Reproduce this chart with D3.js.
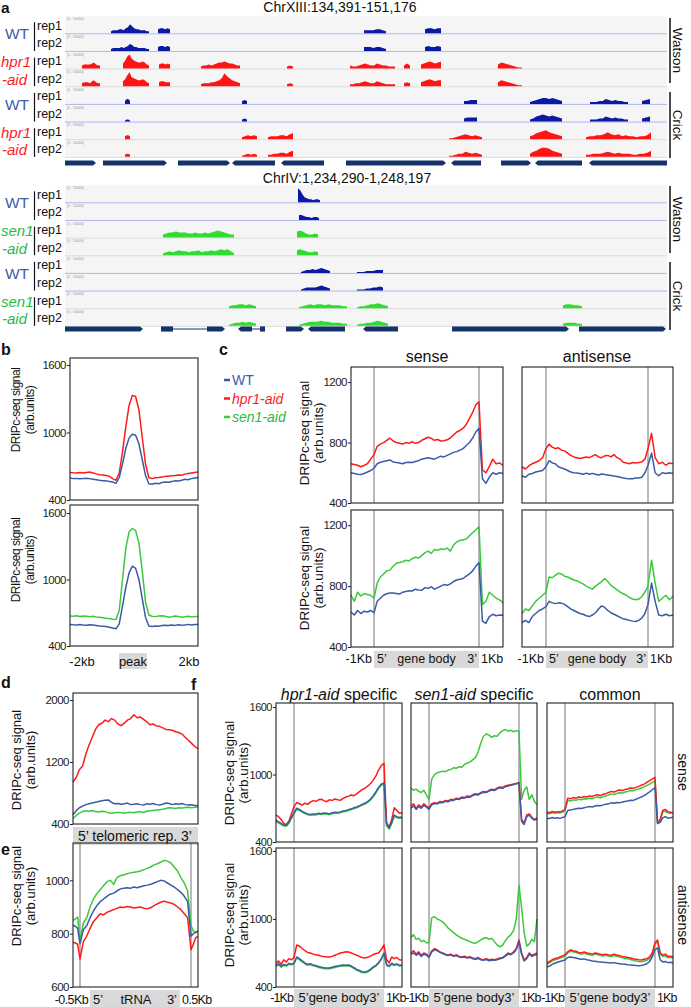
<!DOCTYPE html>
<html>
<head>
<meta charset="utf-8">
<script src="https://cdn.jsdelivr.net/npm/d3@7"></script>
<style>
  body { margin: 0; background: #fff; }
  svg { display: block; }
</style>
</head>
<body>
<svg id="chart" width="691" height="1007"></svg>
<script>
// ---------- panel a: genome browser tracks (position 0-602 across the window, height 0-16) ----------
const strainsXIII = ['WT', 'WT', 'hpr1', 'hpr1', 'WT', 'WT', 'hpr1', 'hpr1'];
const strainsIV = ['WT', 'WT', 'sen1', 'sen1', 'WT', 'WT', 'sen1', 'sen1'];

const peaksXIII = [
  [[46, 84, [2, 3, 3, 3, 4, 4, 3, 5, 6, 9, 7, 5, 4, 4, 3, 3, 3, 2, 2]], [93, 105, [4, 5, 5, 4, 5, 4]], [299, 321, [3, 3, 3, 3, 4, 4, 3, 2]], [360, 376, [4, 5, 5, 4, 5, 5]]],
  [[46, 84, [2, 3, 3, 3, 3, 4, 3, 4, 5, 7, 6, 4, 4, 3, 3, 3, 3, 2, 2]], [93, 105, [4, 5, 5, 4, 5, 4]], [299, 321, [4, 4, 4, 3, 4, 4, 3, 2]], [360, 376, [4, 5, 4, 4, 5, 4]]],
  [[17, 35, [3, 4, 4, 4, 4, 5, 6, 4, 3, 3]], [58, 84, [5, 8, 12, 14, 10, 8, 7, 6, 6, 7, 6, 4, 3]], [94, 105, [4, 5, 5, 4, 5, 4]], [136, 175, [2, 3, 3, 4, 3, 4, 5, 6, 6, 7, 6, 5, 5, 4, 3, 3]], [222, 228, [2, 3, 2]], [285, 330, [3, 2, 2, 3, 4, 5, 4, 3, 3, 5, 4, 3, 3, 2, 2, 2]], [339, 345, [3, 5, 3]], [356, 376, [4, 5, 6, 7, 6, 5, 6, 7]], [433, 457, [4, 6, 5, 4, 3, 2, 1, 1]]],
  [[17, 35, [3, 4, 4, 4, 3, 5, 6, 4, 3, 3]], [58, 84, [5, 7, 11, 14, 9, 8, 7, 6, 6, 7, 6, 4, 3]], [94, 105, [4, 5, 5, 4, 4, 4]], [136, 175, [2, 3, 3, 3, 4, 4, 5, 6, 8, 13, 10, 8, 6, 5, 4, 3]], [222, 228, [2, 3, 2]], [285, 330, [2, 2, 3, 3, 4, 5, 4, 3, 3, 5, 4, 3, 2, 2, 2, 2]], [339, 345, [3, 4, 3]], [356, 376, [4, 5, 6, 7, 6, 5, 6, 6]], [433, 457, [4, 6, 5, 4, 3, 2, 1, 1]]],
  [[60, 65, [3, 5, 5, 3]], [177, 182, [3, 4, 3]], [399, 412, [3, 3, 4, 4, 4]], [465, 497, [2, 3, 4, 5, 6, 6, 5, 6, 5, 4, 3]], [525, 563, [2, 2, 2, 3, 3, 5, 4, 3, 4, 3, 3, 2, 2]], [577, 585, [3, 4, 5]]],
  [[60, 65, [1, 2, 2, 1]], [177, 182, [2, 3, 2]], [399, 412, [3, 4, 4, 4, 4]], [465, 497, [2, 3, 5, 6, 7, 6, 5, 6, 5, 4, 3]], [525, 563, [2, 2, 2, 3, 3, 5, 4, 3, 4, 3, 3, 2, 2]], [577, 585, [3, 4, 5]]],
  [[60, 65, [3, 4, 4, 3]], [177, 192, [2, 3, 4, 3, 4, 3]], [203, 228, [2, 3, 3, 3, 4, 4, 3, 5, 6]], [384, 417, [1, 1, 2, 3, 4, 5, 4, 3, 4, 3, 2]], [465, 497, [3, 4, 6, 7, 8, 9, 7, 6, 5, 4, 3]], [521, 586, [2, 3, 3, 4, 4, 5, 7, 5, 4, 5, 3, 4, 3, 3, 2, 3, 3, 4, 7]]],
  [[60, 65, [2, 3, 3, 2]], [177, 192, [1, 2, 3, 2, 3, 2]], [203, 228, [2, 2, 3, 3, 4, 4, 3, 5, 6]], [384, 417, [1, 1, 2, 3, 3, 5, 4, 3, 4, 3, 2]], [465, 497, [3, 5, 6, 8, 9, 9, 8, 6, 5, 4, 3]], [521, 586, [2, 2, 3, 3, 3, 4, 5, 4, 3, 4, 3, 3, 3, 2, 2, 3, 3, 4, 6]]]
];
const peaksIV = [
  [[233, 255, [14, 12, 8, 5, 4, 3, 3, 2, 3, 3, 2]]],
  [[234, 254, [5, 5, 4, 3, 3, 2, 3, 3, 2]]],
  [[98, 169, [3, 4, 5, 5, 6, 5, 5, 5, 4, 4, 5, 4, 4, 5, 4, 5, 6, 7, 6, 5, 4, 3, 3]], [232, 253, [6, 7, 6, 4, 3, 3, 4, 3]]],
  [[98, 169, [2, 3, 4, 3, 4, 5, 4, 4, 3, 4, 4, 5, 3, 4, 4, 5, 4, 5, 6, 5, 6, 4, 2]], [232, 253, [5, 6, 5, 4, 3, 3, 4, 3]]],
  [[236, 265, [1, 2, 3, 3, 4, 3, 4, 5, 4, 3, 2]], [292, 318, [1, 1, 1, 2, 2, 2, 3, 3, 3]]],
  [[236, 265, [1, 2, 3, 3, 3, 3, 4, 5, 4, 3, 2]], [292, 318, [1, 1, 1, 2, 2, 3, 3, 4, 3]]],
  [[164, 191, [2, 3, 3, 4, 4, 3, 4, 3, 2]], [234, 282, [1, 2, 3, 4, 3, 4, 4, 3, 4, 3, 3, 3, 2, 2]], [292, 323, [1, 2, 2, 3, 4, 4, 5, 4, 3, 2]], [498, 517, [3, 4, 4, 3, 3, 2]]],
  [[164, 191, [1, 2, 3, 3, 4, 3, 4, 3, 2]], [234, 282, [1, 2, 3, 4, 4, 4, 5, 4, 4, 3, 3, 3, 2, 2]], [292, 323, [1, 2, 2, 3, 3, 4, 5, 4, 3, 2]], [498, 517, [2, 3, 3, 3, 2, 2]]]
];
const genesXIII = [[0, 31, 1], [38, 102, 1], [113, 165, 1], [167, 210, -1], [216, 259, -1], [281, 381, 1], [386, 416, -1], [436, 466, 1], [470, 517, -1], [524, 602, -1]];
const genesIV = [[0, 78, 1], [96, 108, 0], [142, 160, 1], [173, 187, -1], [195, 200, 0], [221, 239, 1], [243, 280, -1], [298, 333, -1], [387, 504, 1], [514, 601, 1]];
const intronsIV = [[108, 142], [187, 195]];

// ---------- panel b: peak metaprofiles (40 bins, -2kb .. peak .. 2kb) ----------
const bTopWT = [595, 590, 592, 588, 590, 594, 590, 585, 580, 575, 572, 570, 565, 560, 548, 600, 720, 860, 950, 985, 975, 900, 760, 620, 545, 540, 548, 545, 555, 560, 558, 565, 570, 568, 575, 585, 580, 590, 595, 600];
const bTopHpr1 = [645, 642, 640, 644, 640, 645, 648, 640, 632, 625, 622, 618, 610, 590, 575, 640, 830, 1050, 1240, 1330, 1320, 1200, 960, 720, 600, 590, 598, 600, 605, 610, 612, 615, 618, 622, 620, 630, 635, 640, 645, 650];
const bBotWT = [595, 592, 590, 594, 590, 588, 592, 590, 585, 580, 578, 575, 570, 562, 555, 600, 760, 930, 1060, 1120, 1100, 1000, 830, 660, 580, 575, 580, 578, 585, 588, 584, 590, 586, 592, 588, 590, 595, 590, 594, 595];
const bBotSen1 = [670, 668, 672, 666, 670, 668, 665, 668, 662, 660, 655, 650, 648, 642, 640, 720, 1000, 1280, 1430, 1460, 1440, 1330, 1080, 800, 680, 668, 665, 670, 672, 668, 660, 664, 670, 666, 660, 664, 668, 662, 665, 668];

// ---------- panel c: gene metaprofiles (48 bins: 0-7 upstream, 7-40 gene body, 40-47 downstream) ----------
const cSenseWT1 = [600, 595, 590, 588, 595, 605, 615, 630, 660, 670, 675, 680, 685, 672, 668, 665, 660, 668, 670, 668, 675, 680, 690, 695, 700, 695, 690, 700, 710, 705, 715, 725, 735, 740, 750, 760, 780, 800, 830, 870, 895, 560, 530, 570, 600, 590, 600, 595];
const cSenseHpr1 = [660, 655, 650, 640, 648, 660, 690, 720, 775, 790, 800, 815, 830, 810, 800, 795, 790, 800, 795, 805, 795, 800, 815, 825, 835, 828, 815, 820, 810, 812, 818, 830, 850, 870, 880, 895, 920, 960, 1000, 1050, 1070, 620, 600, 640, 690, 660, 665, 648];
const cAntiWT1 = [580, 570, 590, 595, 605, 610, 615, 640, 680, 665, 660, 640, 632, 625, 615, 605, 600, 598, 595, 590, 598, 590, 596, 590, 585, 592, 588, 585, 582, 578, 575, 570, 565, 562, 560, 560, 565, 565, 570, 600, 650, 730, 600, 580, 600, 595, 600, 595];
const cAntiHpr1 = [640, 625, 645, 660, 670, 680, 700, 760, 790, 770, 760, 765, 750, 745, 730, 715, 705, 700, 695, 700, 705, 700, 710, 720, 705, 700, 712, 715, 705, 720, 700, 690, 670, 665, 660, 668, 665, 668, 672, 690, 760, 860, 700, 660, 670, 650, 665, 660];
const cSenseWT2 = [630, 610, 640, 620, 635, 630, 640, 625, 700, 720, 740, 750, 755, 755, 752, 748, 760, 765, 770, 768, 780, 775, 772, 790, 785, 795, 780, 790, 800, 810, 805, 815, 830, 840, 845, 850, 865, 880, 900, 930, 955, 570, 555, 600, 615, 605, 610, 608];
const cSenseSen1 = [740, 700, 760, 735, 750, 745, 740, 720, 820, 860, 880, 900, 905, 930, 950, 955, 960, 970, 965, 980, 990, 985, 1000, 1020, 1030, 1015, 1040, 1035, 1045, 1040, 1050, 1030, 1070, 1090, 1100, 1105, 1110, 1130, 1150, 1170, 1190, 680, 700, 760, 740, 720, 710, 690];
const cAntiWT2 = [560, 575, 560, 600, 620, 640, 650, 665, 700, 690, 685, 690, 688, 680, 665, 650, 640, 630, 620, 615, 605, 600, 610, 625, 650, 670, 660, 640, 625, 615, 605, 595, 585, 580, 575, 570, 568, 575, 590, 620, 680, 820, 700, 610, 605, 615, 605, 610];
const cAntiSen1 = [620, 650, 640, 670, 700, 720, 740, 760, 860, 855, 870, 885, 880, 865, 860, 850, 840, 835, 825, 815, 800, 790, 780, 800, 815, 830, 850, 830, 805, 790, 775, 760, 750, 740, 725, 715, 710, 715, 730, 760, 800, 970, 820, 700, 720, 740, 710, 735];

// ---------- panel d: telomeric repeats (40 bins) ----------
const dWT = [520, 570, 610, 630, 650, 660, 670, 680, 690, 700, 705, 710, 680, 660, 665, 655, 660, 670, 650, 655, 660, 650, 645, 660, 655, 665, 650, 645, 655, 670, 665, 650, 660, 655, 665, 650, 645, 648, 640, 640];
const dHpr1 = [940, 1000, 1100, 1150, 1300, 1420, 1520, 1620, 1680, 1700, 1740, 1720, 1760, 1740, 1690, 1670, 1700, 1740, 1760, 1810, 1770, 1780, 1750, 1720, 1680, 1690, 1665, 1660, 1640, 1620, 1615, 1610, 1590, 1580, 1560, 1520, 1480, 1440, 1400, 1370];
const dSen1 = [470, 510, 540, 560, 570, 565, 575, 560, 555, 565, 560, 545, 540, 545, 550, 545, 540, 548, 550, 545, 555, 560, 548, 565, 570, 575, 580, 585, 590, 600, 610, 605, 600, 610, 605, 612, 615, 610, 615, 620];

// ---------- panel e: tRNA genes (40 bins: 0-3 upstream, 3-36 tRNA, 36-39 downstream) ----------
const eWT = [832, 828, 820, 762, 815, 830, 860, 885, 905, 920, 930, 940, 948, 952, 960, 968, 970, 972, 970, 975, 972, 976, 980, 982, 985, 990, 995, 1000, 998, 990, 982, 975, 965, 955, 940, 920, 790, 800, 805, 810];
const eHpr1 = [768, 765, 760, 705, 770, 790, 820, 845, 860, 875, 870, 880, 885, 890, 895, 900, 898, 902, 900, 896, 898, 900, 895, 893, 897, 905, 912, 918, 922, 918, 915, 910, 900, 890, 875, 860, 740, 760, 785, 790];
const eSen1 = [850, 855, 862, 775, 840, 860, 900, 930, 950, 965, 980, 995, 1000, 985, 1010, 1018, 1020, 1025, 1028, 1030, 1032, 1035, 1040, 1045, 1050, 1058, 1062, 1068, 1075, 1072, 1065, 1050, 1035, 1010, 990, 960, 830, 810, 805, 808];

// ---------- panel f: gene classes (48 bins, as panel c) ----------
const fHprSenseWT = [595, 580, 565, 550, 548, 575, 620, 660, 700, 690, 672, 660, 650, 645, 650, 648, 655, 652, 658, 655, 650, 660, 665, 662, 668, 675, 680, 688, 695, 705, 712, 722, 735, 745, 760, 780, 810, 845, 885, 915, 925, 560, 525, 575, 640, 625, 618, 622];
const fHprSenseHpr1 = [640, 625, 600, 565, 555, 585, 650, 715, 750, 740, 728, 745, 735, 755, 768, 762, 775, 780, 768, 758, 775, 770, 782, 776, 770, 788, 800, 808, 818, 812, 828, 848, 866, 878, 896, 918, 948, 985, 1040, 1080, 1100, 570, 535, 600, 705, 680, 655, 660];
const fHprSenseSen1 = [580, 570, 555, 545, 540, 565, 610, 650, 690, 680, 665, 652, 642, 638, 642, 640, 648, 645, 650, 648, 642, 652, 658, 655, 660, 668, 672, 680, 688, 698, 705, 715, 728, 738, 752, 772, 800, 835, 875, 905, 915, 545, 515, 565, 630, 615, 610, 615];
const fSenSenseWT = [700, 720, 690, 715, 700, 725, 710, 690, 730, 742, 738, 752, 748, 762, 758, 772, 770, 782, 778, 792, 790, 800, 798, 812, 822, 818, 832, 842, 840, 852, 862, 858, 872, 882, 878, 892, 898, 905, 910, 918, 925, 585, 555, 625, 640, 610, 595, 605];
const fSenSenseHpr1 = [720, 740, 700, 730, 710, 740, 720, 705, 740, 750, 745, 760, 755, 770, 765, 780, 775, 790, 785, 800, 795, 810, 805, 820, 830, 825, 840, 850, 845, 860, 870, 865, 880, 890, 885, 900, 905, 910, 915, 920, 930, 600, 570, 640, 650, 620, 600, 615];
const fSenSenseSen1 = [880, 860, 870, 850, 840, 860, 820, 775, 960, 1000, 1015, 1022, 1030, 1025, 1040, 1045, 1060, 1055, 1070, 1065, 1090, 1100, 1110, 1130, 1150, 1200, 1280, 1340, 1360, 1350, 1330, 1345, 1340, 1370, 1390, 1400, 1385, 1395, 1380, 1390, 1385, 780, 860, 890, 780, 820, 760, 730];
const fComSenseWT = [612, 608, 618, 612, 615, 610, 618, 625, 680, 685, 690, 695, 700, 698, 705, 710, 715, 712, 720, 725, 722, 730, 735, 740, 748, 745, 752, 748, 755, 760, 765, 772, 770, 780, 790, 800, 812, 828, 845, 865, 885, 565, 575, 615, 625, 612, 615, 620];
const fComSenseHpr1 = [667, 660, 672, 665, 670, 668, 675, 690, 790, 785, 795, 790, 800, 795, 805, 800, 810, 805, 815, 820, 812, 825, 830, 840, 850, 845, 855, 862, 858, 866, 872, 880, 878, 886, 895, 905, 915, 930, 945, 960, 975, 570, 600, 680, 690, 670, 665, 660];
const fComSenseSen1 = [655, 650, 662, 655, 660, 658, 665, 680, 770, 765, 775, 772, 780, 776, 785, 782, 790, 785, 795, 800, 792, 805, 810, 818, 828, 822, 832, 838, 835, 845, 850, 858, 856, 865, 872, 880, 890, 902, 915, 930, 940, 565, 590, 665, 675, 660, 655, 662];
const fHprAntiWT = [594, 605, 585, 600, 590, 610, 600, 612, 665, 650, 630, 612, 600, 605, 595, 590, 580, 575, 570, 568, 568, 575, 580, 585, 590, 595, 592, 594, 585, 570, 555, 545, 535, 532, 540, 555, 575, 590, 615, 650, 700, 600, 585, 610, 595, 605, 590, 594];
const fHprAntiHpr1 = [612, 630, 600, 640, 620, 650, 640, 660, 770, 760, 740, 720, 705, 700, 690, 685, 680, 672, 668, 665, 665, 670, 680, 690, 700, 705, 710, 708, 700, 690, 680, 670, 660, 656, 662, 672, 685, 695, 700, 730, 771, 640, 612, 665, 650, 660, 640, 638];
const fHprAntiSen1 = [580, 595, 575, 590, 585, 600, 595, 605, 655, 642, 622, 605, 592, 598, 588, 582, 572, 568, 562, 560, 560, 568, 572, 578, 584, 588, 585, 588, 578, 562, 548, 538, 528, 525, 532, 548, 568, 584, 608, 642, 690, 590, 580, 600, 590, 600, 585, 590];
const fSenAntiWT = [690, 700, 680, 695, 670, 690, 680, 660, 710, 728, 720, 705, 695, 685, 678, 684, 670, 678, 665, 660, 665, 655, 660, 650, 645, 652, 640, 635, 642, 632, 638, 635, 640, 648, 655, 672, 690, 685, 700, 730, 800, 690, 630, 650, 690, 670, 680, 690];
const fSenAntiHpr1 = [700, 720, 690, 710, 680, 700, 690, 665, 720, 740, 727, 710, 700, 690, 682, 690, 675, 685, 670, 665, 672, 660, 668, 655, 650, 660, 645, 640, 650, 638, 645, 640, 648, 655, 660, 680, 700, 690, 710, 740, 815, 700, 638, 660, 700, 680, 690, 700];
const fSenAntiSen1 = [840, 860, 820, 830, 800, 810, 790, 790, 1010, 1020, 1000, 990, 975, 950, 920, 900, 880, 860, 845, 830, 820, 810, 800, 790, 785, 800, 815, 830, 835, 820, 830, 800, 770, 755, 770, 810, 840, 860, 900, 1000, 1300, 1100, 880, 760, 780, 820, 800, 1000];
const fComAntiWT = [577, 585, 600, 610, 618, 625, 632, 638, 660, 665, 660, 655, 650, 645, 648, 640, 635, 630, 628, 622, 620, 618, 616, 614, 612, 615, 610, 606, 602, 600, 596, 594, 592, 590, 588, 590, 596, 605, 625, 665, 730, 744, 640, 621, 625, 615, 618, 612];
const fComAntiHpr1 = [612, 625, 640, 650, 655, 665, 675, 682, 710, 727, 720, 715, 705, 700, 710, 700, 695, 690, 700, 695, 688, 685, 690, 682, 680, 690, 682, 675, 670, 665, 660, 655, 650, 645, 640, 638, 645, 650, 665, 700, 790, 815, 700, 682, 690, 670, 672, 665];
const fComAntiSen1 = [600, 615, 628, 640, 645, 655, 662, 670, 700, 715, 710, 704, 695, 690, 698, 690, 684, 680, 690, 684, 678, 674, 680, 672, 668, 678, 670, 664, 658, 652, 648, 642, 636, 630, 625, 622, 630, 636, 650, 690, 780, 800, 690, 670, 676, 660, 662, 655];

// ---------- drawing ----------
const svg = d3.select('#chart');
const FONT = "'Liberation Sans', Arial, Helvetica, sans-serif";
const COL = {
  wt: '#3a5ba6', hpr1: '#ff1a1a', sen1: '#3cc83c',
  wtTrack: '#0b1aa2', hpr1Track: '#ff1414', sen1Track: '#30dc30',
  wtLabel: '#3b60aa', sen1Label: '#25bb45', gene: '#15336b', box: '#d9d9d9'
};
const STEP = 17.65;

function txt(x, y, s, o = {}) {
  const t = svg.append('text').attr('x', x).attr('y', y).text(s)
    .attr('font-family', FONT).attr('font-size', o.size || 13)
    .attr('fill', o.fill || '#111').attr('text-anchor', o.anchor || 'start');
  if (o.italic) t.attr('font-style', 'italic');
  if (o.weight) t.attr('font-weight', o.weight);
  if (o.rotate) t.attr('transform', `rotate(${o.rotate},${x},${y})`);
  if (o.mid) t.attr('dominant-baseline', 'central');
  if (o.ls) t.attr('letter-spacing', o.ls);
  return t;
}

function browser(sec) {
  const x = d3.scaleLinear().domain([0, 602]).range([65, 667]);
  const h = d3.scaleLinear().domain([0, 16]).range([0, 16]);
  const g = svg.append('g');
  g.append('rect').attr('x', 65).attr('y', sec.base0 - 17).attr('width', 602)
    .attr('height', 8 * STEP).attr('fill', '#f5f5f5');

  sec.peaks.forEach((track, k) => {
    const base = sec.base0 + k * STEP;
    const wt = sec.strains[k] === 'WT';
    g.append('line').attr('x1', 65).attr('x2', 667).attr('y1', base + 0.5).attr('y2', base + 0.5)
      .attr('stroke', wt ? '#b2b5f0' : '#dcdcdc');
    g.append('text').attr('x', 67).attr('y', base - 13).text('[0 - 50000]')
      .attr('font-family', FONT).attr('font-size', 3.5).attr('fill', '#999');
    const area = d3.area().x(d => x(d[0])).y0(base).y1(d => base - h(d[1]));
    track.forEach(([s, e, hs]) => {
      const pts = [[s, 0]].concat(hs.map((v, i) => [s + i * (e - s) / (hs.length - 1), v]), [[e, 0]]);
      g.append('path').datum(pts).attr('d', area).attr('fill', wt ? COL.wtTrack : sec.trackColor);
    });
  });

  // genes
  const gy = sec.geneY;
  (sec.introns || []).forEach(([s, e]) => {
    g.append('line').attr('x1', x(s)).attr('x2', x(e)).attr('y1', gy).attr('y2', gy)
      .attr('stroke', COL.gene).attr('stroke-width', 1);
  });
  const poly = d3.line();
  sec.genes.forEach(([s, e, dir]) => {
    const a = x(s), b = x(e), t = gy - 2.6, bo = gy + 2.6;
    let pts;
    if (dir > 0) pts = [[a, t], [b - 3, t], [b, gy], [b - 3, bo], [a, bo]];
    else if (dir < 0) pts = [[a + 3, t], [b, t], [b, bo], [a + 3, bo], [a, gy]];
    else pts = [[a, t], [b, t], [b, bo], [a, bo]];
    g.append('path').attr('d', poly(pts) + 'Z').attr('fill', COL.gene);
  });

  // strain / replicate labels
  for (let p = 0; p < 4; p++) {
    const b1 = sec.base0 + 2 * p * STEP, b2 = b1 + STEP;
    const st = sec.strains[2 * p];
    svg.append('line').attr('x1', 34.5).attr('x2', 34.5).attr('y1', b1 - 11).attr('y2', b2)
      .attr('stroke', '#111').attr('stroke-width', 1.2);
    txt(37, b1 - 3.5, 'rep1', { size: 12.5 });
    txt(37, b2 - 3.5, 'rep2', { size: 12.5 });
    if (st === 'WT') {
      txt(29, b1 + 6, 'WT', { size: 15.5, anchor: 'end', fill: COL.wtLabel });
    } else {
      const c = st === 'hpr1' ? COL.hpr1 : COL.sen1Label;
      txt(1, b1 - 1.5, st, { size: 15, italic: true, fill: c });
      txt(2, b2 - 1.5, '-aid', { size: 15, italic: true, fill: c });
    }
  }

  // strand brackets
  [['Watson', sec.watson], ['Crick', sec.crick]].forEach(([lab, r]) => {
    svg.append('line').attr('x1', 670).attr('x2', 670).attr('y1', r[0]).attr('y2', r[1])
      .attr('stroke', '#111').attr('stroke-width', 1.5);
    txt(673, (r[0] + r[1]) / 2, lab, { size: 13.5, anchor: 'middle', rotate: 90 });
  });
  txt(sec.titleX, sec.titleY, sec.title, { size: 14, anchor: 'middle' });
}

browser({
  title: 'ChrXIII:134,391-151,176', titleX: 340, titleY: 12,
  base0: 33.3, peaks: peaksXIII, strains: strainsXIII, trackColor: COL.hpr1Track,
  genes: genesXIII, geneY: 163, watson: [18, 83], crick: [92, 158]
});
browser({
  title: 'ChrIV:1,234,290-1,248,197', titleX: 347, titleY: 183,
  base0: 202.3, peaks: peaksIV, strains: strainsIV, trackColor: COL.sen1Track,
  genes: genesIV, introns: intronsIV, geneY: 329, watson: [186, 253], crick: [262, 330]
});

// generic metaprofile plot
function profile(o) {
  const x = d3.scaleLinear().domain(o.xDomain).range(o.xRange);
  const y = d3.scaleLinear().domain(o.yDomain).range([o.y1, o.y0]);
  const g = svg.append('g');
  const x0 = o.xRange[0], x1 = o.xRange[o.xRange.length - 1];
  (o.vlines || []).forEach(v => {
    g.append('line').attr('x1', x(v)).attr('x2', x(v)).attr('y1', o.y0).attr('y2', o.y1)
      .attr('stroke', '#8a8a8a').attr('stroke-width', 1.2);
  });
  const line = d3.line().x((d, i) => x(i)).y(d => y(d));
  o.series.forEach(s => {
    g.append('path').datum(s.data).attr('d', line).attr('fill', 'none')
      .attr('stroke', s.color).attr('stroke-width', 1.5).attr('stroke-linejoin', 'round');
  });
  g.append('rect').attr('x', x0).attr('y', o.y0).attr('width', x1 - x0).attr('height', o.y1 - o.y0)
    .attr('fill', 'none').attr('stroke', '#222').attr('stroke-width', 1.1);
  if (o.ticks) {
    const ax = g.append('g').attr('transform', `translate(${x0},0)`)
      .call(d3.axisLeft(y).tickValues(o.ticks).tickFormat(d3.format('d'))
        .tickSize(3).tickPadding(1).tickSizeOuter(0));
    ax.select('.domain').remove();
    ax.selectAll('line').attr('stroke', '#222');
    ax.selectAll('text').attr('font-family', FONT).attr('font-size', o.tickSize || 11.5).attr('fill', '#222')
      .attr('letter-spacing', -0.5);
  }
  return { x, y };
}

function yLabel(cx, cy, size, ls) {
  txt(cx - 7, cy, 'DRIPc-seq signal', { size, anchor: 'middle', rotate: -90, mid: true, ls });
  txt(cx + 7, cy, '(arb.units)', { size, anchor: 'middle', rotate: -90, mid: true, ls });
}

function grayBox(a, b, y0, y1) {
  svg.append('rect').attr('x', a).attr('y', y0).attr('width', b - a).attr('height', y1 - y0).attr('fill', COL.box);
}

// panel letters
txt(1, 13, 'a', { size: 15.5, weight: 'bold' });
txt(1, 355, 'b', { size: 16, weight: 'bold' });
txt(219, 355, 'c', { size: 16, weight: 'bold' });
txt(1, 688, 'd', { size: 16, weight: 'bold' });
txt(1, 855, 'e', { size: 16, weight: 'bold' });
txt(191, 690, 'f', { size: 16, weight: 'bold' });

// ----- panel b -----
const bX = [70, 198];
profile({ xDomain: [0, 39], xRange: bX, y0: 358, y1: 500, yDomain: [400, 1662], ticks: [400, 1000, 1600],
  series: [{ data: bTopHpr1, color: COL.hpr1 }, { data: bTopWT, color: COL.wt }] });
profile({ xDomain: [0, 39], xRange: bX, y0: 505, y1: 646, yDomain: [400, 1672], ticks: [400, 1000, 1600],
  series: [{ data: bBotSen1, color: COL.sen1 }, { data: bBotWT, color: COL.wt }] });
yLabel(23, 410, 12, -0.5);
yLabel(23, 560, 12, -0.5);
txt(82, 666, '-2kb', { size: 13, anchor: 'middle' });
grayBox(119, 147, 653, 669);
txt(133, 666, 'peak', { size: 13, anchor: 'middle' });
txt(189, 666, '2kb', { size: 13, anchor: 'middle' });

// ----- panel c -----
const cDom = [0, 7, 40, 47];
const cSenseX = [351, 374, 479, 503], cAntiX = [522, 546, 648, 673];
profile({ xDomain: cDom, xRange: cSenseX, y0: 367, y1: 503, yDomain: [400, 1300], ticks: [400, 800, 1200], vlines: [7, 40],
  series: [{ data: cSenseHpr1, color: COL.hpr1 }, { data: cSenseWT1, color: COL.wt }] });
profile({ xDomain: cDom, xRange: cAntiX, y0: 367, y1: 503, yDomain: [400, 1300], vlines: [7, 40],
  series: [{ data: cAntiHpr1, color: COL.hpr1 }, { data: cAntiWT1, color: COL.wt }] });
profile({ xDomain: cDom, xRange: cSenseX, y0: 510, y1: 647, yDomain: [400, 1300], ticks: [400, 800, 1200], vlines: [7, 40],
  series: [{ data: cSenseSen1, color: COL.sen1 }, { data: cSenseWT2, color: COL.wt }] });
profile({ xDomain: cDom, xRange: cAntiX, y0: 510, y1: 647, yDomain: [400, 1300], vlines: [7, 40],
  series: [{ data: cAntiSen1, color: COL.sen1 }, { data: cAntiWT2, color: COL.wt }] });
txt(427, 362, 'sense', { size: 16, anchor: 'middle' });
txt(597, 362, 'antisense', { size: 16, anchor: 'middle' });
yLabel(311, 433, 13.5);
yLabel(311, 578, 13.5);
[cSenseX, cAntiX].forEach(r => {
  txt(r[1] - 2, 663, '-1Kb', { size: 12.5, anchor: 'end' });
  grayBox(r[1], r[2], 651, 668);
  txt(r[1] + 3, 663, '5’', { size: 12.5 });
  txt((r[1] + r[2]) / 2, 663, 'gene body', { size: 12.5, anchor: 'middle' });
  txt(r[2] - 2, 663, '3’', { size: 12.5, anchor: 'end' });
  txt(r[2] + 2, 663, '1Kb', { size: 12.5 });
});
// legend
[['WT', COL.wt, COL.wtLabel, false], ['hpr1-aid', COL.hpr1, COL.hpr1, true], ['sen1-aid', COL.sen1, COL.sen1Label, true]]
  .forEach(([lab, lc, tc, it], i) => {
    const yy = 380 + i * 18.5;
    svg.append('line').attr('x1', 224).attr('x2', 230).attr('y1', yy).attr('y2', yy)
      .attr('stroke', lc).attr('stroke-width', 2.5);
    txt(232, yy + 5, lab, { size: 14, fill: tc, italic: it });
  });

// ----- panel d -----
profile({ xDomain: [0, 39], xRange: [73, 198], y0: 693, y1: 824, yDomain: [400, 2090], ticks: [400, 1200, 2000],
  series: [{ data: dHpr1, color: COL.hpr1 }, { data: dSen1, color: COL.sen1 }, { data: dWT, color: COL.wt }] });
yLabel(23, 760, 13);
grayBox(73, 198, 827, 845);
txt(135, 841, '5’ telomeric rep. 3’', { size: 14, anchor: 'middle' });

// ----- panel e -----
profile({ xDomain: [0, 3, 36, 39], xRange: [73, 80, 191, 198], y0: 843, y1: 987, yDomain: [600, 1140], ticks: [600, 800, 1000],
  vlines: [3, 36],
  series: [{ data: eSen1, color: COL.sen1 }, { data: eHpr1, color: COL.hpr1 }, { data: eWT, color: COL.wt }] });
yLabel(23, 896, 13);
txt(88, 1004, '-0.5Kb', { size: 12.5, anchor: 'end', ls: -0.6 });
grayBox(90, 180, 990, 1007);
txt(93, 1004, '5’', { size: 13 });
txt(136, 1004, 'tRNA', { size: 13, anchor: 'middle' });
txt(177, 1004, '3’', { size: 13, anchor: 'end' });
txt(182, 1004, '0.5Kb', { size: 12.5, ls: -0.6 });

// ----- panel f -----
const fStarts = [276, 411, 547];
const fSense = [
  [fHprSenseSen1, fHprSenseHpr1, fHprSenseWT],
  [fSenSenseSen1, fSenSenseHpr1, fSenSenseWT],
  [fComSenseSen1, fComSenseHpr1, fComSenseWT]
];
const fAnti = [
  [fHprAntiSen1, fHprAntiHpr1, fHprAntiWT],
  [fSenAntiSen1, fSenAntiHpr1, fSenAntiWT],
  [fComAntiSen1, fComAntiHpr1, fComAntiWT]
];
const fColors = [COL.sen1, COL.hpr1, COL.wt];
fStarts.forEach((x0, p) => {
  const xr = [x0, x0 + 18, x0 + 108, x0 + 126];
  profile({ xDomain: cDom, xRange: xr, y0: 703, y1: 842, yDomain: [400, 1636], ticks: p === 0 ? [400, 1000, 1600] : null,
    tickSize: 11, vlines: [7, 40], series: fSense[p].map((d, i) => ({ data: d, color: fColors[i] })) });
  profile({ xDomain: cDom, xRange: xr, y0: 848, y1: 987, yDomain: [400, 1626], ticks: p === 0 ? [400, 1000, 1600] : null,
    tickSize: 11, vlines: [7, 40], series: fAnti[p].map((d, i) => ({ data: d, color: fColors[i] })) });
  txt(xr[1] - 1, 1002, '-1Kb', { size: 12.5, anchor: 'end', ls: -0.9 });
  grayBox(xr[1], xr[2], 989, 1007);
  txt((xr[1] + xr[2]) / 2, 1002, '5’gene body3’', { size: 13, anchor: 'middle' });
  txt(xr[2] + 2, 1002, '1Kb', { size: 12.5, ls: -0.9 });
});
yLabel(236, 773, 13.5);
yLabel(236, 915, 13.5);
// column titles
const t1 = txt(339, 700, '', { size: 16, anchor: 'middle' });
t1.append('tspan').attr('font-style', 'italic').text('hpr1-aid');
t1.append('tspan').text(' specific');
const t2 = txt(474, 700, '', { size: 16, anchor: 'middle' });
t2.append('tspan').attr('font-style', 'italic').text('sen1-aid');
t2.append('tspan').text(' specific');
txt(610, 700, 'common', { size: 16, anchor: 'middle' });
txt(678, 772, 'sense', { size: 14, anchor: 'middle', rotate: 90 });
txt(678, 915, 'antisense', { size: 14, anchor: 'middle', rotate: 90 });
</script>
</body>
</html>
